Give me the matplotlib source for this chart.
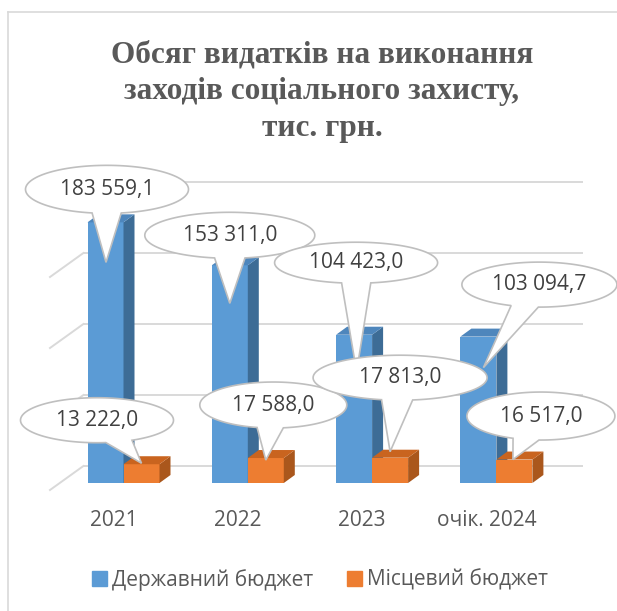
import numpy as np
import matplotlib
matplotlib.use('Agg')
import matplotlib.pyplot as plt
from matplotlib.patches import Polygon
from matplotlib.lines import Line2D
from matplotlib.transforms import IdentityTransform, offset_copy

# data
years = ['2021', '2022', '2023', 'очік. 2024']
state_budget = [183559.1, 153311.0, 104423.0, 103094.7]
local_budget = [13222.0, 17588.0, 17813.0, 16517.0]
state_labels = ['183 559,1', '153 311,0', '104 423,0', '103 094,7']
local_labels = ['13 222,0', '17 588,0', '17 813,0', '16 517,0']
grid_levels = [0, 50000, 100000, 150000, 200000]

# callout layout, pixel offsets from the bar top (x right, y down)
state_box = [(1.5, -33), (0, -30), (2, -72), (61, -52)]
state_size = [(163, 48), (170, 46), (163, 41), (155, 45)]
state_tip = [(0.5, 40), (0, 38), (2.5, 37), (5, 31)]
local_box = [(-44.5, -44), (7.5, -53), (10, -80), (26.5, -43.5)]
local_size = [(153, 45), (147, 46), (174, 45), (148, 48)]
local_tip = [(0, -1), (0, 2), (0, -6), (-1.5, 0)]

BLUE, BLUE_SIDE, BLUE_TOP = '#5B9BD5', '#3D6C96', '#4E86BC'
ORANGE, ORANGE_SIDE, ORANGE_TOP = '#ED7D31', '#AA571C', '#C9641F'
GRID = '#d9d9d9'
TXT = '#404040'
W, H = 617, 611

fig = plt.figure(figsize=(W / 100, H / 100), dpi=100)
ax = fig.add_axes([60 / W, (H - 483) / H, 500 / W, 284 / H])
step = 124.3
ax.set_xlim((60 - 123.5) / step, (560 - 123.5) / step)
ax.set_ylim(0, 200000)
ax.axis('off')


def px(dx, dy):
    # pixel offset -> data offset (dy positive = up)
    sx = step
    sy = 284 / 200000
    return dx / sx, dy / sy


x0, x1 = ax.get_xlim()
bdx, bdy = px(23.4, 17)
fdx, fdy = px(-10, -7)
for lev in grid_levels:
    ax.plot([x0 + bdx, x1 + bdx], [lev + bdy, lev + bdy], color=GRID, lw=1.4,
            clip_on=False, zorder=0, solid_capstyle='butt')
    ax.plot([x0 + fdx, x0 + bdx], [lev + fdy, lev + bdy], color=GRID, lw=1.4,
            clip_on=False, zorder=0)

# bars
bw = 36 / step
ddx, ddy = px(11, 8)
x = np.arange(len(years))


def box3d(left, v, front, side, top, z):
    ax.bar(left, v, width=bw, align='edge', color=front, zorder=z, clip_on=False)
    r = left + bw
    ax.fill([r, r + ddx, r + ddx, r], [0, ddy, v + ddy, v], color=side, zorder=z,
            clip_on=False, lw=0)
    ax.fill([left, r, r + ddx, left + ddx], [v, v, v + ddy, v + ddy], color=top,
            zorder=z, clip_on=False, lw=0)


for i in x:
    box3d(i - bw, state_budget[i], BLUE, BLUE_SIDE, BLUE_TOP, 2)
    box3d(i, local_budget[i], ORANGE, ORANGE_SIDE, ORANGE_TOP, 3)

# year labels
lab_tr = offset_copy(ax.transData, fig=fig, x=-10, y=-38, units='dots')
for i, name in enumerate(years):
    ax.text(i, 0, name, transform=lab_tr, ha='center', va='center',
            fontsize=15, family='Open Sans', color='#595959')


def callout(anchor, off, size, tip, label, z):
    ax_, ay_ = ax.transData.transform(anchor)
    cx, cy = ax_ + off[0], ay_ - off[1]
    tx, ty = ax_ + tip[0], ay_ - tip[1]
    a, b = size[0] / 2, size[1] / 2
    th = np.arctan2((ty - cy) / b, (tx - cx) / a)
    d = 0.18
    t = np.linspace(th + d, th + 2 * np.pi - d, 240)
    pts = np.column_stack([cx + a * np.cos(t), cy + b * np.sin(t)])
    pts = np.vstack([pts, [tx, ty]])
    fig.add_artist(Polygon(pts, closed=True, fc='white', ec='#bfbfbf', lw=1.2,
                           transform=IdentityTransform(), zorder=z))
    fig.text(cx / W, cy / H, label, ha='center', va='center', fontsize=15,
             family='Open Sans', color=TXT, zorder=z + 0.5)


for i in x:
    callout((i - bw / 2, state_budget[i]), state_box[i], state_size[i],
            state_tip[i], state_labels[i], 5 + i * 0.01)
for i in x:
    callout((i + bw / 2, local_budget[i]), local_box[i], local_size[i],
            local_tip[i], local_labels[i], 7 + i * 0.01)

# title
title_lines = ['Обсяг видатків на виконання', 'заходів соціального захисту,', 'тис. грн.']
for k, line in enumerate(title_lines):
    fig.text(322 / W, 1 - (62 + 37 * k) / H, line, ha='center', va='baseline',
             fontsize=22.5, fontweight='bold', family='Liberation Serif', color='#595959')

# legend
handles = [plt.Rectangle((0, 0), 1, 1, color=BLUE), plt.Rectangle((0, 0), 1, 1, color=ORANGE)]
leg = fig.legend(handles, ['Державний бюджет', 'Місцевий бюджет'], loc='center',
                 bbox_to_anchor=(320 / W, 1 - 580 / H), ncol=2, frameon=False,
                 prop={'family': 'Open Sans', 'size': 15}, handlelength=0.72,
                 handleheight=0.72, handletextpad=0.25, columnspacing=1.6)
for t in leg.get_texts():
    t.set_color('#595959')

# chart frame
fig.add_artist(Line2D([8 / W, 8 / W], [0, 1 - 12 / H], color=GRID, lw=1.2))
fig.add_artist(Line2D([8 / W, 1], [1 - 12 / H, 1 - 12 / H], color=GRID, lw=1.2))

fig.savefig('out.png', dpi=100)
